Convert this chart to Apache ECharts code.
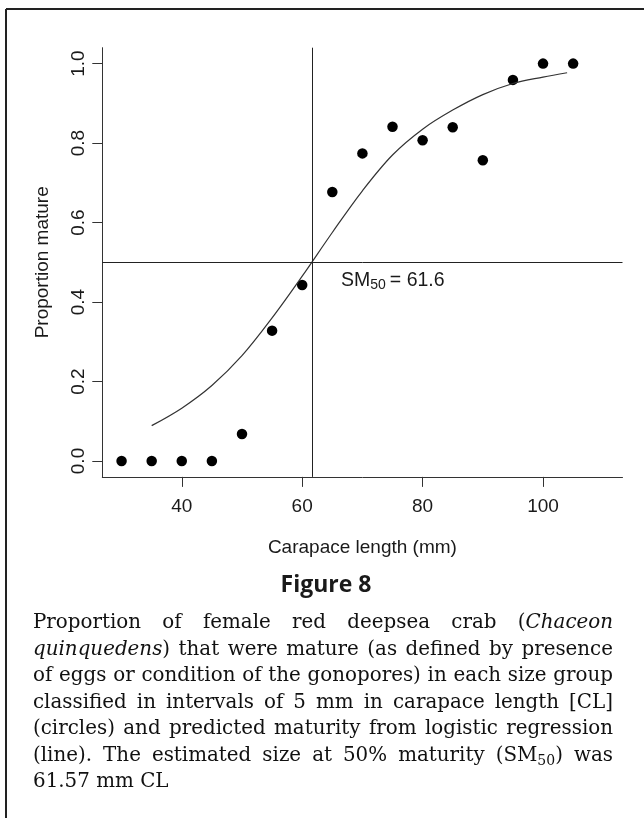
<!DOCTYPE html>
<html><head><meta charset="utf-8">
<script src="https://cdn.jsdelivr.net/npm/echarts@6/dist/echarts.min.js"></script>
<style>html,body{margin:0;padding:0;background:#fff}#c{width:644px;height:818px}</style>
</head><body><div id="c"></div>
<script>
// ---- data ----
const lengthGroups = [30, 35, 40, 45, 50, 55, 60, 65, 70, 75, 80, 85, 90, 95, 100, 105];
const proportionMature = [0, 0, 0, 0, 0.068, 0.328, 0.443, 0.677, 0.774, 0.841, 0.807, 0.840, 0.757, 0.959, 1.0, 1.0];
const fitLength = [35, 40, 45, 50, 55, 60, 65, 70, 75, 80, 85, 90, 95, 100, 104];
const fitProportion = [0.089, 0.133, 0.19, 0.265, 0.36, 0.465, 0.575, 0.68, 0.77, 0.835, 0.883, 0.922, 0.95, 0.966, 0.977];
const sm50 = 61.6;
const halfMature = 0.5;
const xTicks = [40, 60, 80, 100];
const yTicks = [0, 0.2, 0.4, 0.6, 0.8, 1.0];
const xRange = [26.8, 113.2];
const yRange = [-0.04, 1.04];
const xTitle = 'Carapace length (mm)';
const yTitle = 'Proportion mature';
const figureTitle = 'Figure 8';
const captionLines = [
  [[{t:'Proportion'}],[{t:'of'}],[{t:'female'}],[{t:'red'}],[{t:'deepsea'}],[{t:'crab'}],[{t:'('},{t:'Chaceon',it:true}]],
  [[{t:'quinquedens',it:true},{t:')'}],[{t:'that'}],[{t:'were'}],[{t:'mature'}],[{t:'(as'}],[{t:'defined'}],[{t:'by'}],[{t:'presence'}]],
  [[{t:'of'}],[{t:'eggs'}],[{t:'or'}],[{t:'condition'}],[{t:'of'}],[{t:'the'}],[{t:'gonopores)'}],[{t:'in'}],[{t:'each'}],[{t:'size'}],[{t:'group'}]],
  [[{t:'classified'}],[{t:'in'}],[{t:'intervals'}],[{t:'of'}],[{t:'5'}],[{t:'mm'}],[{t:'in'}],[{t:'carapace'}],[{t:'length'}],[{t:'[CL]'}]],
  [[{t:'(circles)'}],[{t:'and'}],[{t:'predicted'}],[{t:'maturity'}],[{t:'from'}],[{t:'logistic'}],[{t:'regression'}]],
  [[{t:'(line).'}],[{t:'The'}],[{t:'estimated'}],[{t:'size'}],[{t:'at'}],[{t:'50%'}],[{t:'maturity'}],[{t:'(SM'},{t:'50',sub:true},{t:')'}],[{t:'was'}]],
  [[{t:'61.57'}],[{t:'mm'}],[{t:'CL'}]]
];

// ---- layout helpers ----
const SANS = '"Liberation Sans", Arial, sans-serif';
const SERIF = '"DejaVu Serif", serif';
const cv = document.createElement('canvas').getContext('2d');
function fontStr(size, fam, italic, bold){ return (italic?'italic ':'') + (bold?'bold ':'') + size + 'px ' + fam; }
function measure(txt, font){ cv.font = font; return cv.measureText(txt).width; }

const graphics = [];
// figure border (top and left edges visible)
graphics.push({type:'line', shape:{x1:6, y1:9, x2:650, y2:9}, style:{stroke:'#222', lineWidth:2}, silent:true});
graphics.push({type:'line', shape:{x1:6, y1:9, x2:6, y2:830}, style:{stroke:'#222', lineWidth:2}, silent:true});

function addText(txt, x, y, font, align, fill){
  graphics.push({type:'text', silent:true, style:{text:txt, x:x, y:y, font:font, fill:fill||'#1a1a1a',
    textAlign:align||'left', textVerticalAlign:'middle', align:align||'left', verticalAlign:'middle'}});
}

// SM50 label
(function(){
  const f = fontStr(19.5, SANS), fs = fontStr(14, SANS);
  let x = 341, y = 281;
  addText('SM', x, y, f); x += measure('SM', f);
  addText('50', x, y + 4.5, fs); x += measure('50', fs) + 4;
  addText('= 61.6', x, y, f);
})();

// Figure title
graphics.push({type:'text', silent:true, style:{text:figureTitle, x:326, y:585, font:fontStr(23, '"Open Sans", "Noto Sans", sans-serif', false, true),
  fill:'#1a1a1a', textAlign:'center', textVerticalAlign:'middle', align:'center', verticalAlign:'middle'}});

// Caption, justified
(function(){
  const x0 = 33, W = 580, y0 = 623, lh = 26.5;
  function segFont(s, seg){ return fontStr(seg.sub ? Math.round(s*0.68) : s, SERIF, !!seg.it); }
  function wordW(s, word){ return word.reduce((a, seg) => a + measure(seg.t, segFont(s, seg)), 0); }
  const base = 18;
  let maxNat = 0;
  captionLines.slice(1, 6).forEach(line => {
    const w = line.reduce((a, wd) => a + wordW(base, wd), 0) + measure(' ', fontStr(base, SERIF)) * (line.length - 1);
    maxNat = Math.max(maxNat, w);
  });
  const s = Math.min(20, base * (W - 4) / maxNat);
  captionLines.forEach((line, i) => {
    const widths = line.map(wd => wordW(s, wd));
    const total = widths.reduce((a, b) => a + b, 0);
    const justify = i < captionLines.length - 1;
    const gap = justify ? (W - total) / (line.length - 1) : measure(' ', fontStr(s, SERIF));
    let x = x0;
    const y = y0 + i * lh;
    line.forEach((wd, k) => {
      let xx = x;
      wd.forEach(seg => {
        const f = segFont(s, seg);
        addText(seg.t, xx, seg.sub ? y + s*0.28 : y, f, 'left', '#111');
        xx += measure(seg.t, f);
      });
      x += widths[k] + gap;
    });
  });
})();

const chart = echarts.init(document.getElementById('c'), null, {renderer:'canvas'});
const axisColor = '#333';
chart.setOption({
  animation: false,
  backgroundColor: '#fff',
  grid: {left: 102.3, right: 21.5, top: 47.7, bottom: 341.1, containLabel: false},
  xAxis: {
    type: 'value', min: xRange[0], max: xRange[1],
    name: xTitle, nameLocation: 'middle', nameGap: 61,
    nameTextStyle: {fontSize: 19, fontFamily: SANS, color: '#1a1a1a'},
    axisLine: {show: true, onZero: false, lineStyle: {color: axisColor, width: 1}},
    axisTick: {show: true, inside: false, length: 10, customValues: xTicks, lineStyle: {color: axisColor}},
    axisLabel: {show: true, customValues: xTicks, fontSize: 19, fontFamily: SANS, color: '#1a1a1a', margin: 20,
      formatter: v => String(v)},
    splitLine: {show: false}
  },
  yAxis: {
    type: 'value', min: yRange[0], max: yRange[1],
    name: yTitle, nameLocation: 'middle', nameGap: 50, nameRotate: 90,
    nameTextStyle: {fontSize: 19, fontFamily: SANS, color: '#1a1a1a'},
    axisLine: {show: true, onZero: false, lineStyle: {color: axisColor, width: 1}},
    axisTick: {show: true, inside: false, length: 10, customValues: yTicks, lineStyle: {color: axisColor}},
    axisLabel: {show: true, customValues: yTicks, rotate: 90, fontSize: 19, fontFamily: SANS, color: '#1a1a1a', margin: 14,
      formatter: v => v.toFixed(1)},
    splitLine: {show: false}
  },
  series: [
    {
      type: 'line', name: 'fit', data: fitLength.map((x, i) => [x, fitProportion[i]]),
      showSymbol: false, smooth: 0.35, silent: true,
      lineStyle: {color: '#333', width: 1.2},
      markLine: {
        silent: true, symbol: 'none', animation: false,
        lineStyle: {color: '#222', width: 1, type: 'solid'},
        label: {show: false},
        data: [{xAxis: sm50}, {yAxis: halfMature}]
      }
    },
    {
      type: 'scatter', name: 'observed', data: lengthGroups.map((x, i) => [x, proportionMature[i]]),
      symbol: 'circle', symbolSize: 10.5, itemStyle: {color: '#000', opacity: 1}, silent: true
    }
  ],
  graphic: graphics
});
</script>
</body></html>
